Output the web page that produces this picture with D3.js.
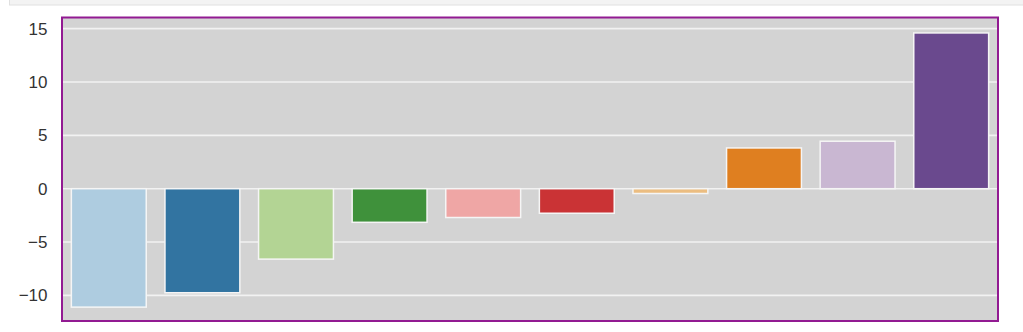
<!DOCTYPE html>
<html>
<head>
<meta charset="utf-8">
<script src="https://cdn.jsdelivr.net/npm/d3@7"></script>
<style>
  html, body { margin: 0; padding: 0; background: #ffffff; }
  svg { display: block; }
</style>
</head>
<body>
<svg id="chart" width="1023" height="332"></svg>
<script>
const categories = ["A", "B", "C", "D", "E", "F", "G", "H", "I", "J"];
const values = [-11.1, -9.75, -6.6, -3.15, -2.7, -2.3, -0.45, 3.82, 4.45, 14.6];
const colors = ["#aecce0", "#3274a1", "#b3d494", "#3f913b", "#efa6a5",
                "#ca3335", "#ebbd81", "#df7f20", "#c9b7d2", "#6a498e"];
const yTicks = [-10, -5, 0, 5, 10, 15];
const yDomain = [-12.4, 16.0];

(function () {
const svg = d3.select("#chart");
const pLeft = 62, pRight = 998, pTop = 18, pBottom = 321;

// top strip (page chrome)
svg.append("rect")
  .attr("x", 9.5).attr("y", -1).attr("width", 1020).attr("height", 6)
  .attr("fill", "#f3f3f3").attr("stroke", "#e0e0e0").attr("stroke-width", 1);

const x = d3.scaleBand().domain(categories).range([pLeft, pRight])
  .paddingInner(0.2).paddingOuter(0.1);
const y = d3.scaleLinear().domain(yDomain).range([pBottom, pTop]);

// plot background
svg.append("rect")
  .attr("x", pLeft).attr("y", pTop).attr("width", pRight - pLeft).attr("height", pBottom - pTop)
  .attr("fill", "#d3d3d3");

// grid
svg.append("g").selectAll("line").data(yTicks).join("line")
  .attr("x1", pLeft).attr("x2", pRight)
  .attr("y1", d => y(d)).attr("y2", d => y(d))
  .attr("stroke", "#f2f2f2").attr("stroke-width", 1.6);

// y axis labels
const yAxis = d3.axisLeft(y).tickValues(yTicks).tickSize(0).tickPadding(14.5)
  .tickFormat(d => d < 0 ? "\u2212" + Math.abs(d) : String(d));
const ga = svg.append("g").attr("transform", `translate(${pLeft},0)`).call(yAxis);
ga.select(".domain").remove();
ga.selectAll("text")
  .attr("font-family", "'Liberation Sans', Arial, Helvetica, sans-serif")
  .attr("font-size", 17).attr("fill", "#333333");

// bars
svg.append("g").selectAll("rect").data(values).join("rect")
  .attr("x", (d, i) => x(categories[i]))
  .attr("width", x.bandwidth())
  .attr("y", d => y(Math.max(0, d)))
  .attr("height", d => Math.abs(y(d) - y(0)))
  .attr("fill", (d, i) => colors[i])
  .attr("stroke", "#f5f5f5").attr("stroke-width", 1.5);

// frame
svg.append("rect")
  .attr("x", pLeft).attr("y", pTop - 0.5).attr("width", pRight - pLeft).attr("height", pBottom - pTop + 0.5)
  .attr("fill", "none").attr("stroke", "#921a92").attr("stroke-width", 2);
})();
</script>
</body>
</html>
